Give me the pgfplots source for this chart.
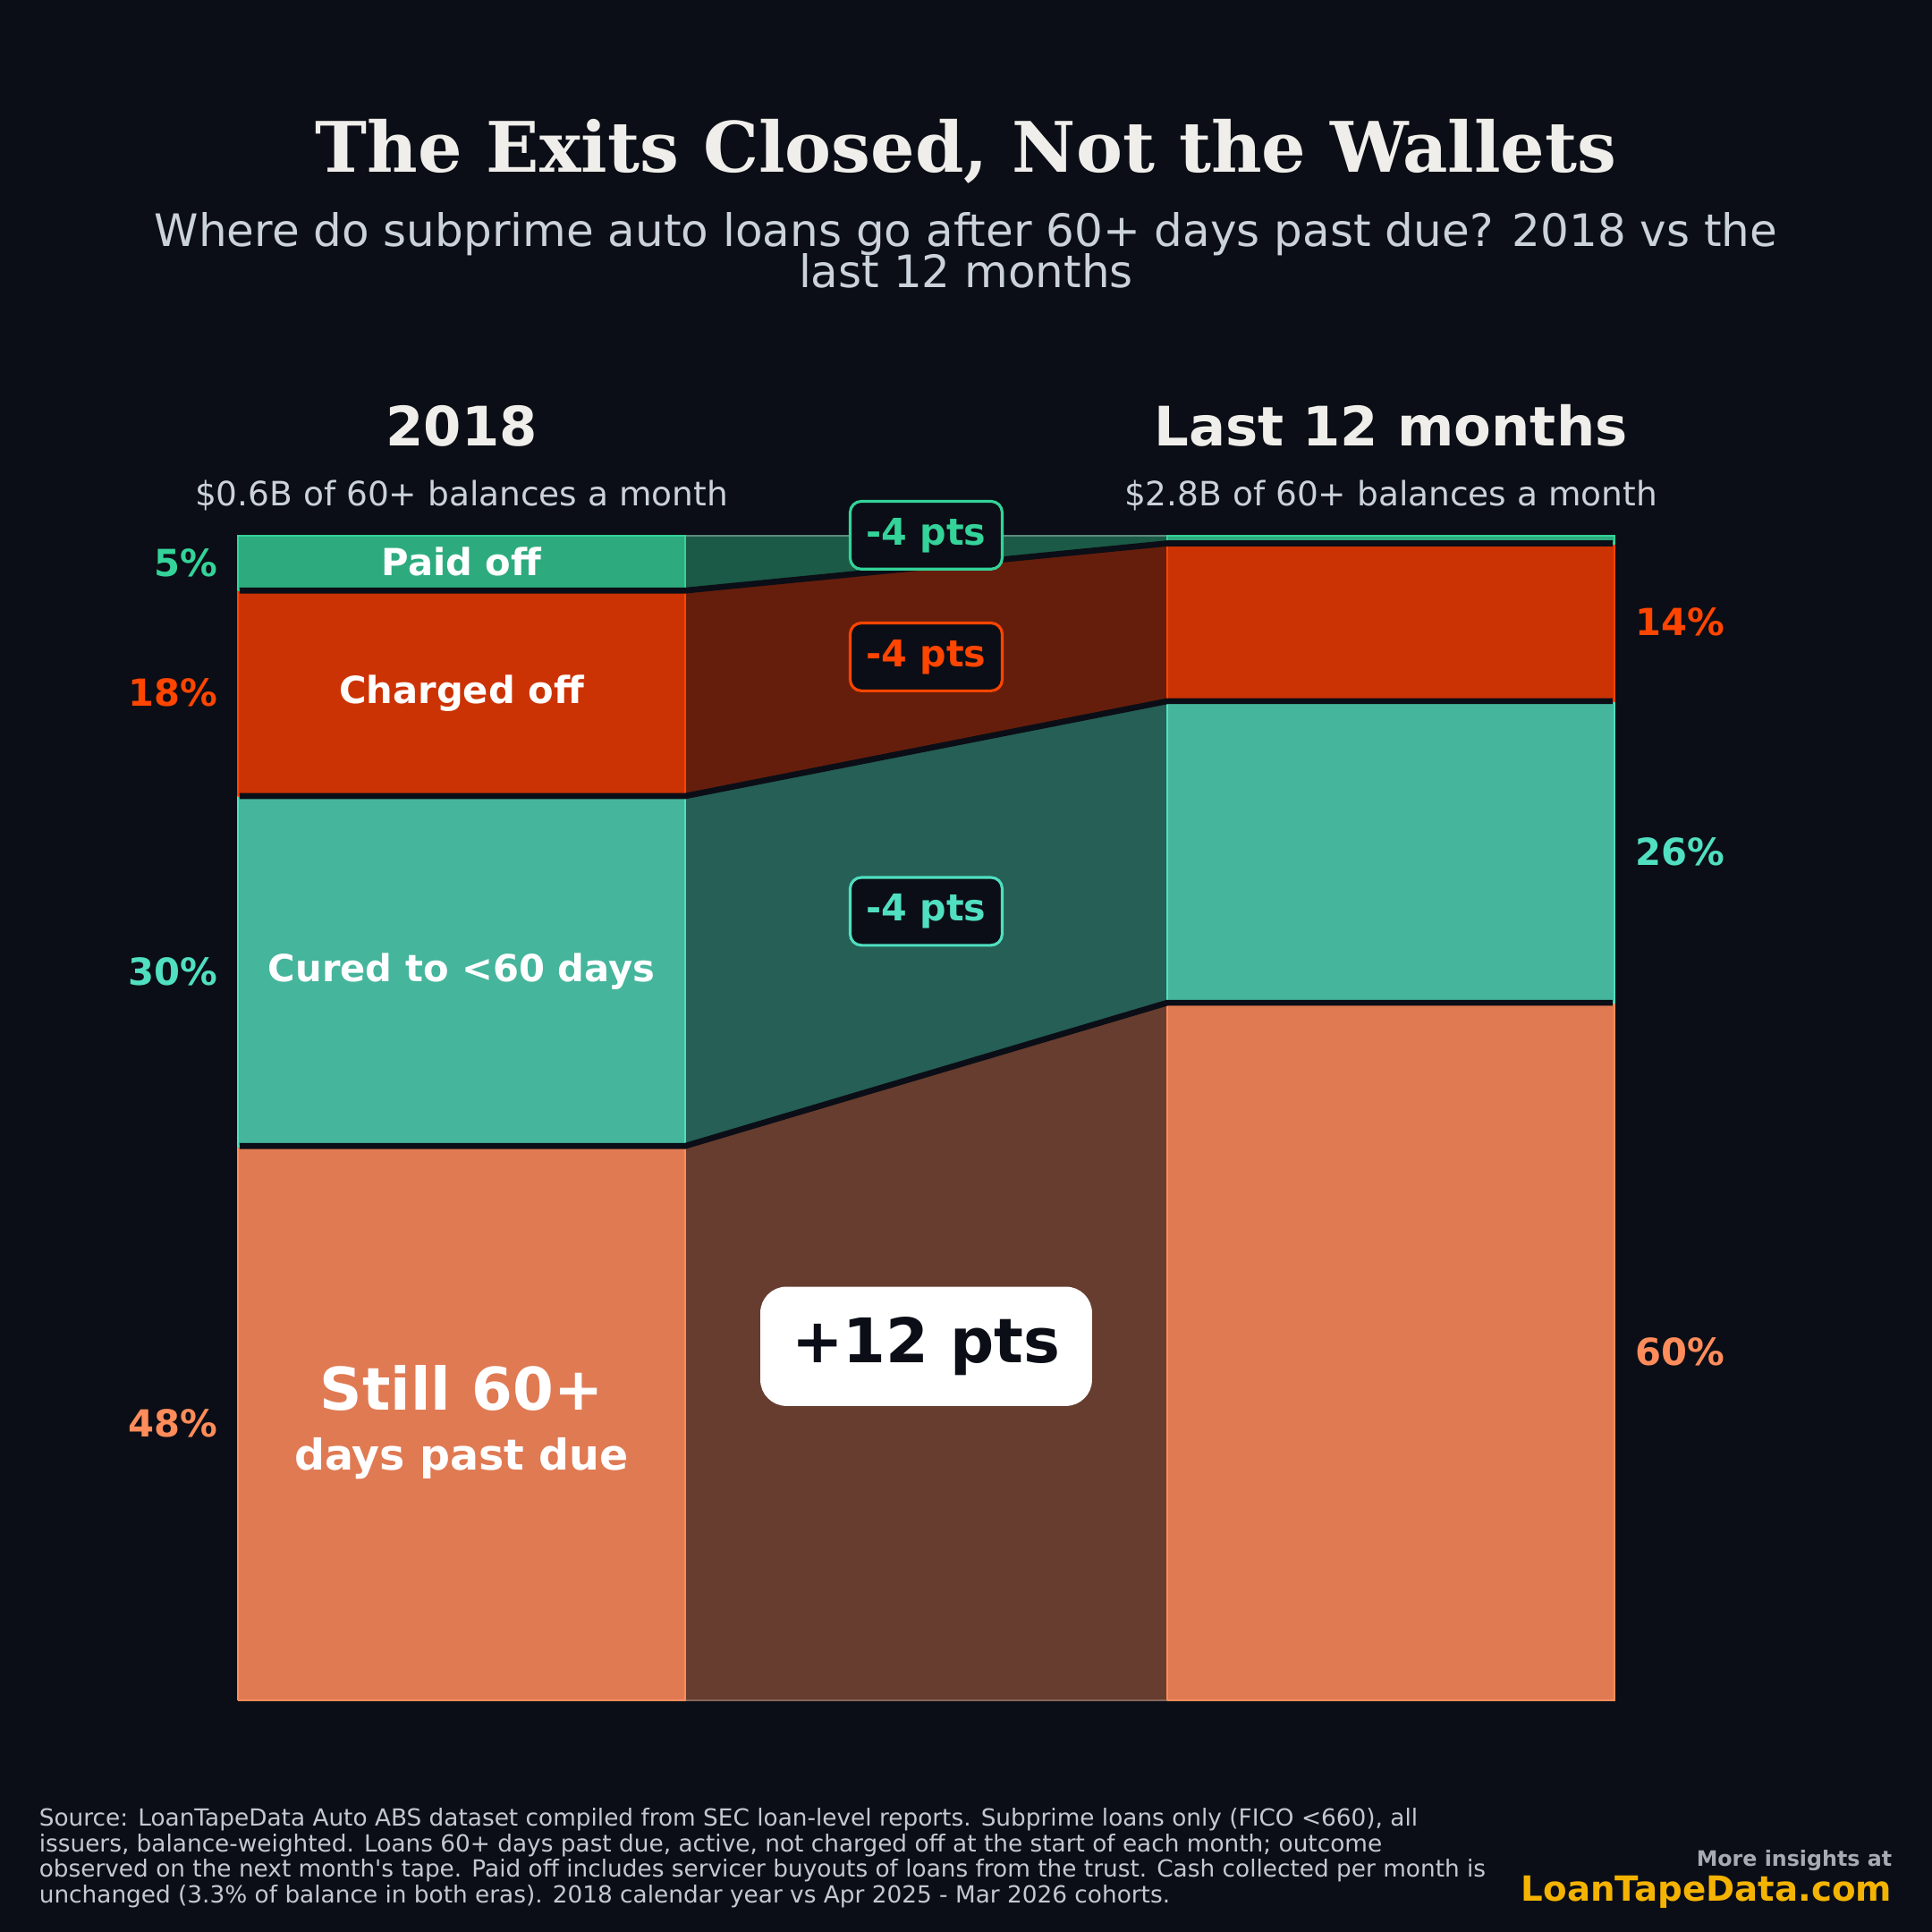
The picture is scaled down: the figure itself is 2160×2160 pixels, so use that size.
\documentclass[border=0pt]{standalone}
\usepackage{pgfplots}
\pgfplotsset{compat=1.18}
\usepackage{fontspec}
\setmainfont{DejaVu Sans}
\newfontfamily\plainfont{DejaVu Sans}[Ligatures=TeXOff]
\newfontfamily\titlefont{DejaVu Serif}
\definecolor{bg}{HTML}{0B0E16}
\definecolor{paidB}{HTML}{2DAB7F}
\definecolor{paidL}{HTML}{34D399}
\definecolor{paidF}{HTML}{1B5A46}
\definecolor{chgB}{HTML}{CC3304}
\definecolor{chgL}{HTML}{FF4500}
\definecolor{chgF}{HTML}{661E0C}
\definecolor{curB}{HTML}{45B59C}
\definecolor{curL}{HTML}{50DFC0}
\definecolor{curF}{HTML}{255F55}
\definecolor{stiB}{HTML}{E07A53}
\definecolor{stiL}{HTML}{FF8C5A}
\definecolor{stiF}{HTML}{673D2F}
\definecolor{titleC}{HTML}{F0EEEA}
\definecolor{subC}{HTML}{CBD2DC}
\definecolor{footC}{HTML}{C4C8D0}
\definecolor{gold}{HTML}{F5B301}
\begin{document}
\begin{tikzpicture}[x=0.24pt,y=0.24pt,
  badge/.style={draw=#1, line width=0.75pt, rounded corners=3pt, fill=bg, minimum width=40.8pt, minimum height=18.2pt, inner sep=0pt, text=#1, font=\bfseries\fontsize{9.9}{11}\selectfont},
  pct/.style={text=#1, inner sep=0pt, font=\bfseries\fontsize{10}{12}\selectfont}]
\fill[bg] (0,0) rectangle (2160,2160);
\begin{axis}[at={(63.84pt,62.16pt)}, anchor=south west, scale only axis,
  width=369.36pt, height=312.48pt, xmin=266, xmax=1805, ymin=0, ymax=100,
  hide axis, clip=false]
% flows
\addplot[fill=stiF, draw=stiF!80!white, line width=0.4pt] coordinates {(766,0) (1305,0) (1305,59.9) (766,47.6) (766,0)};
\addplot[fill=curF, draw=none] coordinates {(766,47.6) (1305,59.9) (1305,85.8) (766,77.65) (766,47.6)};
\addplot[fill=chgF, draw=none] coordinates {(766,77.65) (1305,85.8) (1305,99.35) (766,95.3) (766,77.65)};
\addplot[fill=paidF, draw=none] coordinates {(766,95.3) (1305,99.35) (1305,100) (766,100) (766,95.3)};
\addplot[draw=paidF!70!white, line width=0.4pt] coordinates {(766,100) (1305,100)};
% left bar
\addplot[fill=stiB, draw=stiL, line width=0.6pt] coordinates {(266,0) (766,0) (766,47.6) (266,47.6) (266,0)};
\addplot[fill=curB, draw=curL, line width=0.6pt] coordinates {(266,47.6) (766,47.6) (766,77.65) (266,77.65) (266,47.6)};
\addplot[fill=chgB, draw=chgL, line width=0.6pt] coordinates {(266,77.65) (766,77.65) (766,95.3) (266,95.3) (266,77.65)};
\addplot[fill=paidB, draw=paidL, line width=0.6pt] coordinates {(266,95.3) (766,95.3) (766,100) (266,100) (266,95.3)};
% right bar
\addplot[fill=stiB, draw=stiL, line width=0.6pt] coordinates {(1305,0) (1805,0) (1805,59.9) (1305,59.9) (1305,0)};
\addplot[fill=curB, draw=curL, line width=0.6pt] coordinates {(1305,59.9) (1805,59.9) (1805,85.8) (1305,85.8) (1305,59.9)};
\addplot[fill=chgB, draw=chgL, line width=0.6pt] coordinates {(1305,85.8) (1805,85.8) (1805,99.35) (1305,99.35) (1305,85.8)};
\addplot[fill=paidB, draw=paidL, line width=0.6pt] coordinates {(1305,99.35) (1805,99.35) (1805,100) (1305,100) (1305,99.35)};
% separators
\addplot[draw=bg, line width=1.6pt] coordinates {(268,47.6) (766,47.6) (1305,59.9) (1803,59.9)};
\addplot[draw=bg, line width=1.6pt] coordinates {(268,77.65) (766,77.65) (1305,85.8) (1803,85.8)};
\addplot[draw=bg, line width=1.6pt] coordinates {(268,95.3) (766,95.3) (1305,99.35) (1803,99.35)};
% bar labels
\node[text=white, font=\bfseries\fontsize{10}{12}\selectfont] at (axis cs:516,97.8) {Paid off};
\node[text=white, font=\bfseries\fontsize{10}{12}\selectfont] at (axis cs:516,86.5) {Charged off};
\node[text=white, font=\bfseries\fontsize{10}{12}\selectfont] at (axis cs:516,62.6) {Cured to <60 days};
\node[text=white, font=\bfseries\fontsize{15.8}{18}\selectfont] at (axis cs:516,26.8) {Still 60+};
\node[text=white, font=\bfseries\fontsize{11.4}{13}\selectfont] at (axis cs:516,20.8) {days past due};
% percent labels
\node[pct=paidL, anchor=east] at (axis cs:244,97.65) {5\%};
\node[pct=chgL, anchor=east] at (axis cs:244,86.5) {18\%};
\node[pct=curL, anchor=east] at (axis cs:244,62.6) {30\%};
\node[pct=stiL, anchor=east] at (axis cs:244,23.8) {48\%};
\node[pct=chgL, anchor=west] at (axis cs:1828,92.6) {14\%};
\node[pct=curL, anchor=west] at (axis cs:1828,72.85) {26\%};
\node[pct=stiL, anchor=west] at (axis cs:1828,29.95) {60\%};
% badges
\node[badge=paidL] at (axis cs:1035.5,100.05) {-4 pts};
\node[badge=chgL] at (axis cs:1035.5,89.6) {-4 pts};
\node[badge=curL] at (axis cs:1035.5,67.75) {-4 pts};
\node[fill=white, rounded corners=7pt, minimum width=89pt, minimum height=32pt, inner sep=0pt, text=bg, font=\bfseries\fontsize{16.5}{19}\selectfont] at (axis cs:1035.5,30.4) {+12 pts};
\end{axis}
% titles
\node[anchor=base, text=titleC, font=\titlefont\bfseries\fontsize{18.7}{22}\selectfont] at (1080,1967) {The Exits Closed, Not the Wallets};
\node[anchor=base, text=subC, font=\fontsize{12}{14}\selectfont] at (1080,1884) {Where do subprime auto loans go after 60+ days past due? 2018 vs the};
\node[anchor=base, text=subC, font=\fontsize{12}{14}\selectfont] at (1080,1838) {last 12 months};
\node[anchor=base, text=titleC, font=\bfseries\fontsize{14.6}{17}\selectfont] at (516,1661) {2018};
\node[anchor=base, text=titleC, font=\bfseries\fontsize{14.6}{17}\selectfont] at (1555,1661) {Last 12 months};
\node[anchor=base, text=subC, font=\fontsize{9}{11}\selectfont] at (516,1594) {\$0.6B of 60+ balances a month};
\node[anchor=base, text=subC, font=\fontsize{9}{11}\selectfont] at (1555,1594) {\$2.8B of 60+ balances a month};
% footer
\node[anchor=base west, text=footC, inner sep=0pt, font=\plainfont\fontsize{6.32}{6.96}\selectfont, align=left] at (43,32) {Source: LoanTapeData Auto ABS dataset compiled from SEC loan-level reports. Subprime loans only (FICO <660), all\\issuers, balance-weighted. Loans 60+ days past due, active, not charged off at the start of each month; outcome\\observed on the next month's tape. Paid off includes servicer buyouts of loans from the trust. Cash collected per month is\\unchanged (3.3\% of balance in both eras). 2018 calendar year vs Apr 2025 - Mar 2026 cohorts.};
\node[anchor=base east, text=footC!85!black, inner sep=0pt, font=\bfseries\fontsize{5.7}{7}\selectfont] at (2116,74) {More insights at};
\node[anchor=base east, text=gold, inner sep=0pt, font=\bfseries\fontsize{9.3}{11}\selectfont] at (2116,34) {LoanTapeData.com};
\end{tikzpicture}
\end{document}
